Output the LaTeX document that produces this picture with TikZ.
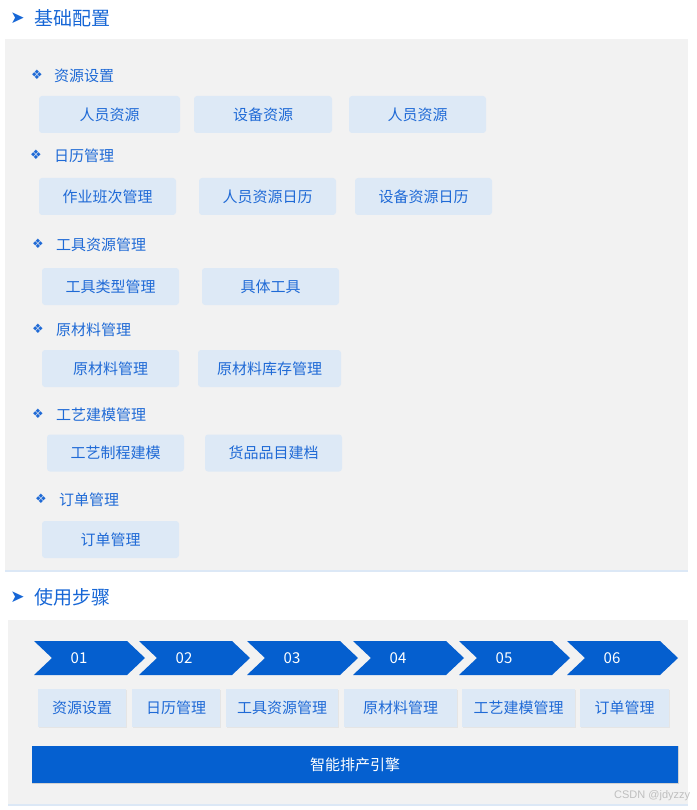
\documentclass[tikz,border=0pt]{standalone}
\usepackage{fontspec}
\setmainfont{Noto Sans CJK SC}
\newfontfamily\symfont{DejaVu Sans}
\newfontfamily\wmfont{Liberation Sans}
\definecolor{panelbg}{HTML}{F2F2F2}
\definecolor{panelline}{HTML}{DCE8F6}
\definecolor{boxbg}{HTML}{DDE9F6}
\definecolor{txtblue}{HTML}{1F6AD6}
\definecolor{headblue}{HTML}{1666D6}
\definecolor{chevblue}{HTML}{055FCF}
\definecolor{barblue}{HTML}{0560D0}
\tikzset{
  panel/.style={fill=panelbg, draw=none},
  heading/.style={anchor=west, text=headblue, font=\fontsize{19}{21}\selectfont, inner sep=0},
  headmark/.style={anchor=center, text=headblue, font=\symfont\fontsize{17}{19}\selectfont, inner sep=0},
  sectitle/.style={anchor=west, text=txtblue, font=\fontsize{15}{17}\selectfont, inner sep=0},
  secmark/.style={anchor=center, text=txtblue, font=\symfont\fontsize{13}{14}\selectfont, inner sep=0},
  itembox/.style={fill=boxbg, rounded corners=3pt, minimum height=37pt, text=txtblue, font=\fontsize{15}{17}\selectfont, inner sep=0},
  stepbox/.style={fill=boxbg, minimum height=38pt, text=txtblue, font=\fontsize{15}{17}\selectfont, inner sep=0},
  stepshadow/.style={fill=black!10},
  chev/.style={fill=chevblue},
  chevnum/.style={text=white, font=\fontsize{15}{17}\selectfont, inner sep=0},
}
\begin{document}
\begin{tikzpicture}[x=1pt,y=-1pt]
\useasboundingbox (0,0) rectangle (696,810);
\fill[white] (0,0) rectangle (696,810);
% ---------- section 1 ----------
\node[headmark] (h1m) at (17.5,18.5) {➤};
\node[heading] (h1) at (34,18) {基础配置};
\fill[panelline] (5,569) rectangle (688,572);
\fill[panel] (5,39) rectangle (688,570);

\node[secmark] (s1m) at (37,75) {❖};
\node[sectitle] (s1) at (54,75.5) {资源设置};
\node[itembox, minimum width=141pt] (b11) at (109.5,114.5) {人员资源};
\node[itembox, minimum width=138pt] (b12) at (263,114.5) {设备资源};
\node[itembox, minimum width=137pt] (b13) at (417.5,114.5) {人员资源};

\node[secmark] (s2m) at (36,155) {❖};
\node[sectitle] (s2) at (54,155.5) {日历管理};
\node[itembox, minimum width=137pt] (b21) at (107.5,196.5) {作业班次管理};
\node[itembox, minimum width=137pt] (b22) at (267.5,196.5) {人员资源日历};
\node[itembox, minimum width=137pt] (b23) at (423.5,196.5) {设备资源日历};

\node[secmark] (s3m) at (38,244) {❖};
\node[sectitle] (s3) at (56,244.5) {工具资源管理};
\node[itembox, minimum width=137pt] (b31) at (110.5,286.5) {工具类型管理};
\node[itembox, minimum width=137pt] (b32) at (270.5,286.5) {具体工具};

\node[secmark] (s4m) at (38,329) {❖};
\node[sectitle] (s4) at (56,329.5) {原材料管理};
\node[itembox, minimum width=137pt] (b41) at (110.5,368.5) {原材料管理};
\node[itembox, minimum width=143pt] (b42) at (269.5,368.5) {原材料库存管理};

\node[secmark] (s5m) at (38,414) {❖};
\node[sectitle] (s5) at (56,414.5) {工艺建模管理};
\node[itembox, minimum width=137pt] (b51) at (115.5,453) {工艺制程建模};
\node[itembox, minimum width=137pt] (b52) at (273.5,453) {货品品目建档};

\node[secmark] (s6m) at (41,499) {❖};
\node[sectitle] (s6) at (59,499.5) {订单管理};
\node[itembox, minimum width=137pt] (b61) at (110.5,539.5) {订单管理};

% ---------- section 2 ----------
\node[headmark] (h2m) at (17.5,597.5) {➤};
\node[heading] (h2) at (34,597) {使用步骤};
\fill[panelline] (8,803) rectangle (688,806);
\fill[panel] (8,620) rectangle (688,804);

\foreach \s/\n/\lx in {34/01/79, 139/02/184, 247/03/292, 353/04/398, 459/05/504, 567/06/612}{
  \fill[chev] (\s,641) -- (\s+93,641) -- (\s+111,658) -- (\s+93,675) -- (\s,675) -- (\s+18,658) -- cycle;
  \node[chevnum] (c\n) at (\lx,658) {\n};
}

\foreach \a/\b in {38/126, 132/220, 226/338, 344/457, 462/575, 580/669}{
  \fill[stepshadow] (\a+0.5,689.5) rectangle (\b+0.8,728.2);
}
\node[stepbox, minimum width=88pt]  (t1) at (82,708) {资源设置};
\node[stepbox, minimum width=88pt]  (t2) at (176,708) {日历管理};
\node[stepbox, minimum width=112pt] (t3) at (282,708) {工具资源管理};
\node[stepbox, minimum width=113pt] (t4) at (400.5,708) {原材料管理};
\node[stepbox, minimum width=113pt] (t5) at (518.5,708) {工艺建模管理};
\node[stepbox, minimum width=89pt]  (t6) at (624.5,708) {订单管理};

\fill[black!18] (31.5,745.5) rectangle (678.8,784);
\node[fill=barblue, minimum width=646pt, minimum height=37pt, inner sep=0, text=white, font=\fontsize{15}{17}\selectfont] (eng) at (355,764.5) {智能排产引擎};

\node[anchor=west, inner sep=0, text=black!25, font=\wmfont\fontsize{11}{12}\selectfont] (wm) at (614,796) {CSDN @jdyzzy};
\end{tikzpicture}
\end{document}
